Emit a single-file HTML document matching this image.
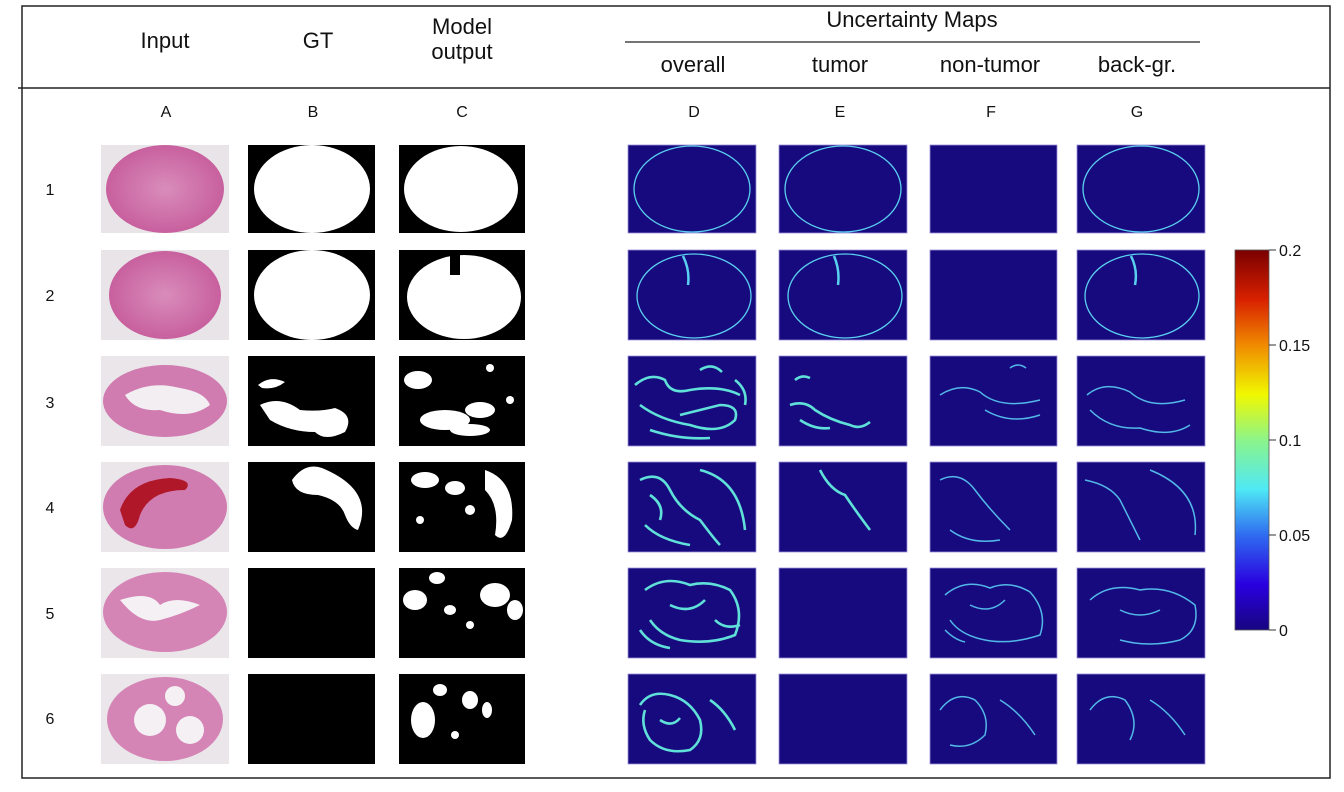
<!DOCTYPE html>
<html><head><meta charset="utf-8"><style>
html,body{margin:0;padding:0;background:#fff;}
svg{display:block;font-family:"Liberation Sans",Arial,sans-serif;}
</style></head><body>
<svg width="1344" height="792" viewBox="0 0 1344 792" xmlns="http://www.w3.org/2000/svg">
<defs>
<linearGradient id="jet" x1="0" y1="1" x2="0" y2="0">
<stop offset="0" stop-color="#170580"/>
<stop offset="0.12" stop-color="#2a00e0"/>
<stop offset="0.25" stop-color="#2f6cf0"/>
<stop offset="0.37" stop-color="#4fe8f5"/>
<stop offset="0.5" stop-color="#8cf58a"/>
<stop offset="0.62" stop-color="#f0f800"/>
<stop offset="0.75" stop-color="#f08a00"/>
<stop offset="0.87" stop-color="#d82000"/>
<stop offset="1" stop-color="#7a0000"/>
</linearGradient>
<radialGradient id="he" cx="0.5" cy="0.5" r="0.5">
<stop offset="0" stop-color="#d98cbc"/><stop offset="1" stop-color="#c8609e"/>
</radialGradient>
</defs>
<rect x="22" y="6" width="1308" height="772" fill="none" stroke="#222" stroke-width="1.5"/>
<line x1="18" y1="88" x2="1330" y2="88" stroke="#222" stroke-width="1.5"/>
<line x1="625" y1="42" x2="1200" y2="42" stroke="#222" stroke-width="1.2"/>
<g font-size="22" fill="#111" text-anchor="middle">
<text x="165" y="48">Input</text>
<text x="318" y="48">GT</text>
<text x="462" y="34">Model</text>
<text x="462" y="59">output</text>
<text x="912" y="27">Uncertainty Maps</text>
<text x="693" y="72">overall</text>
<text x="840" y="72">tumor</text>
<text x="990" y="72">non-tumor</text>
<text x="1137" y="72">back-gr.</text>
</g>
<g font-size="16" fill="#111" text-anchor="middle">
<text x="166" y="117">A</text><text x="313" y="117">B</text><text x="462" y="117">C</text>
<text x="694" y="117">D</text><text x="840" y="117">E</text><text x="991" y="117">F</text><text x="1137" y="117">G</text>
<text x="50" y="195">1</text><text x="50" y="301">2</text><text x="50" y="408">3</text>
<text x="50" y="513">4</text><text x="50" y="619">5</text><text x="50" y="724">6</text>
</g>

<g>
<rect x="101" y="145" width="128" height="88" fill="#e8e4e8"/>
<ellipse cx="165" cy="189" rx="59" ry="44" fill="url(#he)"/>
<rect x="101" y="250" width="128" height="90" fill="#e8e4e8"/>
<ellipse cx="165" cy="295" rx="56" ry="44" fill="url(#he)"/>
<rect x="101" y="356" width="128" height="90" fill="#eae6ea"/>
<ellipse cx="165" cy="401" rx="62" ry="36" fill="#d07cb0"/>
<path d="M125 395 Q150 380 180 388 Q205 392 210 405 Q190 420 160 410 Q135 412 125 395Z" fill="#f2eef2"/>
<rect x="101" y="462" width="128" height="90" fill="#eae6ea"/>
<ellipse cx="165" cy="507" rx="62" ry="42" fill="#d07cb0"/>
<path d="M120 510 Q130 480 170 478 Q195 480 185 490 Q150 490 140 515 Q135 535 125 525Z" fill="#b0182a"/>
<rect x="101" y="568" width="128" height="90" fill="#eae6ea"/>
<ellipse cx="165" cy="612" rx="62" ry="40" fill="#d584b6"/>
<path d="M120 600 Q150 590 160 605 Q175 595 200 605 Q180 615 160 620 Q140 625 120 600Z" fill="#f4f0f4"/>
<rect x="101" y="674" width="128" height="90" fill="#eae6ea"/>
<ellipse cx="165" cy="719" rx="58" ry="42" fill="#d584b6"/>
<circle cx="150" cy="720" r="16" fill="#f4f0f4"/><circle cx="190" cy="730" r="14" fill="#f4f0f4"/><circle cx="175" cy="696" r="10" fill="#f4f0f4"/>
</g>

<g>
<rect x="248" y="145" width="127" height="88" fill="#000"/>
<ellipse cx="312" cy="189" rx="58" ry="44" fill="#fff"/>
<rect x="248" y="250" width="127" height="90" fill="#000"/>
<ellipse cx="312" cy="295" rx="58" ry="45" fill="#fff"/>
<rect x="248" y="356" width="127" height="90" fill="#000"/>
<path d="M258 385 Q270 375 285 382 Q275 390 262 388Z M260 405 Q280 395 300 410 Q320 412 335 408 Q355 415 345 432 Q325 442 315 432 Q290 432 270 420Z" fill="#fff"/>
<rect x="248" y="462" width="127" height="90" fill="#000"/>
<path d="M292 480 Q305 462 322 468 Q375 490 358 530 Q350 528 345 515 Q340 500 318 495 Q295 495 292 480Z" fill="#fff"/>
<rect x="248" y="568" width="127" height="90" fill="#000"/>
<rect x="248" y="674" width="127" height="90" fill="#000"/>
</g>

<g>
<rect x="399" y="145" width="126" height="88" fill="#000"/>
<ellipse cx="461" cy="189" rx="57" ry="43" fill="#fff"/>
<rect x="399" y="250" width="126" height="90" fill="#000"/>
<ellipse cx="464" cy="297" rx="57" ry="42" fill="#fff"/>
<rect x="450" y="255" width="10" height="20" fill="#000"/>
<rect x="399" y="356" width="126" height="90" fill="#000"/>
<g fill="#fff"><ellipse cx="418" cy="380" rx="14" ry="9"/><ellipse cx="445" cy="420" rx="25" ry="10"/><ellipse cx="480" cy="410" rx="15" ry="8"/><ellipse cx="470" cy="430" rx="20" ry="6"/><circle cx="490" cy="368" r="4"/><circle cx="510" cy="400" r="4"/></g>
<rect x="399" y="462" width="126" height="90" fill="#000"/>
<g fill="#fff"><path d="M485 470 Q515 480 512 520 Q505 545 495 535 Q500 505 485 490Z"/><ellipse cx="425" cy="480" rx="14" ry="8"/><ellipse cx="455" cy="488" rx="10" ry="7"/><circle cx="420" cy="520" r="4"/><circle cx="470" cy="510" r="5"/></g>
<rect x="399" y="568" width="126" height="90" fill="#000"/>
<g fill="#fff"><ellipse cx="415" cy="600" rx="12" ry="10"/><ellipse cx="437" cy="578" rx="8" ry="6"/><ellipse cx="495" cy="595" rx="15" ry="12"/><ellipse cx="515" cy="610" rx="8" ry="10"/><ellipse cx="450" cy="610" rx="6" ry="5"/><circle cx="470" cy="625" r="4"/></g>
<rect x="399" y="674" width="126" height="90" fill="#000"/>
<g fill="#fff"><ellipse cx="423" cy="720" rx="12" ry="18"/><ellipse cx="440" cy="690" rx="7" ry="6"/><ellipse cx="470" cy="700" rx="8" ry="9"/><ellipse cx="487" cy="710" rx="5" ry="8"/><circle cx="455" cy="735" r="4"/></g>
</g>

<g fill="#170a7e" stroke="#9a8fd8" stroke-width="0.8">
<rect x="628" y="145" width="128" height="88"/><rect x="779" y="145" width="128" height="88"/><rect x="930" y="145" width="127" height="88"/><rect x="1077" y="145" width="128" height="88"/>
<rect x="628" y="250" width="128" height="90"/><rect x="779" y="250" width="128" height="90"/><rect x="930" y="250" width="127" height="90"/><rect x="1077" y="250" width="128" height="90"/>
<rect x="628" y="356" width="128" height="90"/><rect x="779" y="356" width="128" height="90"/><rect x="930" y="356" width="127" height="90"/><rect x="1077" y="356" width="128" height="90"/>
<rect x="628" y="462" width="128" height="90"/><rect x="779" y="462" width="128" height="90"/><rect x="930" y="462" width="127" height="90"/><rect x="1077" y="462" width="128" height="90"/>
<rect x="628" y="568" width="128" height="90"/><rect x="779" y="568" width="128" height="90"/><rect x="930" y="568" width="127" height="90"/><rect x="1077" y="568" width="128" height="90"/>
<rect x="628" y="674" width="128" height="90"/><rect x="779" y="674" width="128" height="90"/><rect x="930" y="674" width="127" height="90"/><rect x="1077" y="674" width="128" height="90"/>
</g>
<g fill="none" stroke="#5ad0f0" stroke-width="1.3">
<ellipse cx="692" cy="189" rx="58" ry="43"/><ellipse cx="843" cy="189" rx="58" ry="43"/><ellipse cx="1141" cy="189" rx="58" ry="43"/>
<ellipse cx="694" cy="296" rx="57" ry="42"/><ellipse cx="845" cy="296" rx="57" ry="42"/><ellipse cx="1142" cy="296" rx="57" ry="42"/>
<path d="M683 256 Q690 270 688 285 M834 256 Q840 270 838 285 M1131 256 Q1138 270 1135 285" stroke-width="2.5"/>
</g>
<g fill="none" stroke="#5fe0d8" stroke-width="2.6">
<path d="M635 385 Q650 372 665 380 Q670 395 690 390 Q720 385 740 395 M640 405 Q660 420 690 425 Q720 435 735 420 Q740 405 720 405 Q700 410 680 415 M650 430 Q680 440 710 438 M700 370 Q712 362 722 372 M735 380 Q748 390 745 405"/>
<path d="M790 405 Q805 400 815 410 Q830 420 850 425 Q860 430 870 422 M795 380 Q802 374 810 378 M800 420 Q815 430 830 428"/>
<path d="M640 480 Q660 470 670 490 Q680 510 700 520 Q715 540 720 545 M645 525 Q660 540 690 545 M700 470 Q740 480 745 530 M650 495 Q665 505 660 520"/>
<path d="M820 470 Q830 490 845 495 Q855 510 870 530"/>
<path d="M645 590 Q665 575 690 585 Q710 580 730 590 Q745 610 735 635 Q710 645 680 640 Q660 635 650 620 M670 605 Q690 615 705 600 M640 630 Q650 645 670 648 M715 620 Q725 630 740 625"/>
<path d="M640 705 Q650 690 670 695 Q690 700 700 720 Q705 740 690 750 Q665 755 650 740 Q640 725 645 710 M710 700 Q725 710 735 730 M660 720 Q672 728 680 718"/>
</g>
<g fill="none" stroke="#52b8e8" stroke-width="1.5">
<path d="M940 395 Q960 382 980 392 Q1000 410 1040 400 M985 410 Q1010 425 1040 415 M1010 368 Q1018 362 1026 368"/>
<path d="M1087 395 Q1105 380 1130 392 Q1150 410 1185 400 M1090 410 Q1110 430 1140 428 Q1170 438 1190 425"/>
<path d="M940 480 Q960 470 975 490 Q990 510 1010 530 M950 530 Q970 545 1000 540 M1085 480 Q1110 485 1120 500 Q1130 520 1140 540 M1150 470 Q1200 490 1195 535"/>
<path d="M945 595 Q965 578 990 588 Q1010 580 1030 592 Q1048 612 1040 635 Q1010 645 985 640 Q960 635 950 620 M970 605 Q990 615 1005 600 M945 630 Q955 640 965 642"/>
<path d="M1090 600 Q1110 582 1140 590 Q1170 585 1195 605 Q1200 630 1180 640 Q1150 648 1120 640 M1120 610 Q1140 620 1160 610"/>
<path d="M940 710 Q955 690 975 700 Q990 715 985 735 Q970 750 950 745 M1000 700 Q1020 712 1035 735"/>
<path d="M1090 710 Q1105 690 1125 700 Q1140 720 1130 740 M1150 700 Q1170 712 1185 735"/>
</g>

<rect x="1235" y="250" width="34" height="380" fill="url(#jet)" stroke="#555" stroke-width="0.8"/>
<g stroke="#333" stroke-width="1">
<line x1="1269" y1="250" x2="1276" y2="250"/><line x1="1269" y1="345" x2="1276" y2="345"/>
<line x1="1269" y1="440" x2="1276" y2="440"/><line x1="1269" y1="535" x2="1276" y2="535"/>
<line x1="1269" y1="630" x2="1276" y2="630"/>
</g>
<g font-size="16" fill="#111">
<text x="1279" y="256">0.2</text><text x="1279" y="351">0.15</text><text x="1279" y="446">0.1</text>
<text x="1279" y="541">0.05</text><text x="1279" y="636">0</text>
</g>
</svg>
</body></html>
